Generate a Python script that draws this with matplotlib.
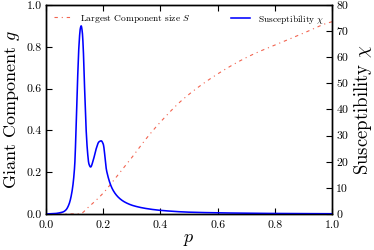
import numpy as np
import matplotlib
matplotlib.use("Agg")
import matplotlib.pyplot as plt

plt.rcParams['font.family'] = 'serif'
plt.rcParams['font.serif'] = ['cmr10']
plt.rcParams['mathtext.fontset'] = 'cm'
plt.rcParams['axes.unicode_minus'] = False
plt.rcParams['axes.formatter.use_mathtext'] = True

# Largest component size S (left axis)
p_S = [0.0, 0.117, 0.15, 0.2, 0.25, 0.3, 0.35, 0.4, 0.48, 0.6, 0.71, 0.83, 0.9, 0.976, 1.0]
S = [0.0, 0.0, 0.035, 0.10, 0.185, 0.27, 0.36, 0.44, 0.55, 0.67, 0.755, 0.825, 0.865, 0.91, 0.92]

# Susceptibility chi (right axis)
p_chi = [0.0, 0.03, 0.05, 0.06, 0.07, 0.08, 0.09, 0.1, 0.105, 0.11, 0.115, 0.12, 0.123,
         0.127, 0.13, 0.135, 0.14, 0.145, 0.15, 0.156, 0.165, 0.175, 0.185, 0.193, 0.2,
         0.212, 0.235, 0.259, 0.28, 0.305, 0.35, 0.4, 0.5, 0.6, 0.7, 0.8, 1.0]
chi = [0.0, 0.15, 0.5, 0.8, 1.6, 3.6, 8.0, 18.0, 32.0, 50.0, 64.0, 71.0, 72.0,
       69.5, 64.0, 48.0, 33.0, 24.0, 19.2, 18.0, 20.5, 24.8, 27.6, 28.0, 26.8,
       16.5, 9.0, 5.8, 4.3, 3.2, 2.1, 1.4, 0.7, 0.45, 0.3, 0.2, 0.1]

x_ticks = [0.0, 0.2, 0.4, 0.6, 0.8, 1.0]
left_ticks = [0.0, 0.2, 0.4, 0.6, 0.8, 1.0]
right_ticks = [0, 10, 20, 30, 40, 50, 60, 70, 80]


def pchip(x, y, xn):
    x = np.asarray(x, float)
    y = np.asarray(y, float)
    h = np.diff(x)
    d = np.diff(y) / h
    m = np.zeros_like(y)
    for i in range(1, len(x) - 1):
        if d[i - 1] * d[i] <= 0:
            m[i] = 0.0
        else:
            w1 = 2 * h[i] + h[i - 1]
            w2 = h[i] + 2 * h[i - 1]
            m[i] = (w1 + w2) / (w1 / d[i - 1] + w2 / d[i])
    m[0] = d[0]
    m[-1] = d[-1]
    idx = np.clip(np.searchsorted(x, xn) - 1, 0, len(x) - 2)
    t = (xn - x[idx]) / h[idx]
    h00 = 2 * t**3 - 3 * t**2 + 1
    h10 = t**3 - 2 * t**2 + t
    h01 = -2 * t**3 + 3 * t**2
    h11 = t**3 - t**2
    return (h00 * y[idx] + h10 * h[idx] * m[idx] + h01 * y[idx + 1]
            + h11 * h[idx] * m[idx + 1])


fig = plt.figure(figsize=(3.74, 2.5), dpi=100)
ax = fig.add_axes([46/374, 1-214/250, (332-46)/374, (214-5)/250])
ax2 = ax.twinx()

pp = np.linspace(0, 1, 2001)
S_s = pchip(p_S, S, pp)
chi_s = pchip(p_chi, chi, pp)

ax.plot(pp, S_s, color='#f2634f', lw=0.8, dashes=(3, 3.5, 1, 3.5),
        label=r'Largest Component size $S$')
ax2.plot(pp, chi_s, color='#0000ff', lw=1.15, label=r'Susceptibility $\chi$')

ax.set_xlim(0, 1)
ax.set_ylim(0, 1)
ax2.set_ylim(0, 80)
ax.set_xticks(x_ticks)
ax.set_yticks(left_ticks)
ax2.set_yticks(right_ticks)
ax.set_xticklabels(['%.1f' % v for v in x_ticks])
ax.set_yticklabels(['%.1f' % v for v in left_ticks])
ax2.set_yticklabels([str(v) for v in right_ticks])

ax.tick_params(axis='x', direction='in', top=True, length=4, labelsize=8.5, pad=5)
ax.tick_params(axis='y', direction='in', length=4, labelsize=8.5, pad=3)
ax2.tick_params(axis='y', direction='in', length=4, labelsize=8.5, pad=3)
for a in (ax, ax2):
    for s in a.spines.values():
        s.set_linewidth(1.0)

ax.set_xlabel(r'$p$', fontsize=13, labelpad=1)
ax.set_ylabel(r'Giant Component $g$', fontsize=13, labelpad=3)
ax2.set_ylabel(r'Susceptibility $\chi$', fontsize=13.5, labelpad=3)

ax.legend(loc='upper left', frameon=False, fontsize=6.8, handlelength=2.0,
          borderaxespad=0.4)
ax2.legend(loc='upper right', frameon=False, fontsize=6.8, handlelength=2.0,
           borderaxespad=0.4)

fig.savefig('out.png', dpi=100)
